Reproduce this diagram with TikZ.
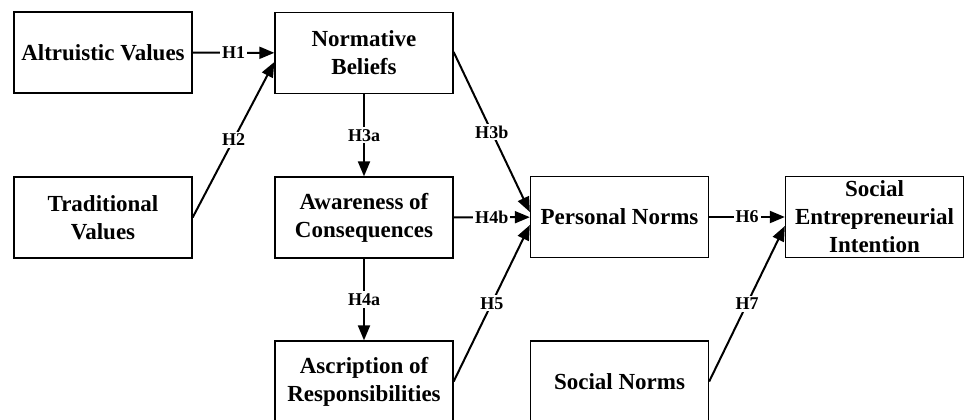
\documentclass[tikz,border=0pt]{standalone}
\usepackage{fontspec}
\setmainfont{Liberation Serif}
\usetikzlibrary{calc, arrows.meta}

\begin{document}
\begin{tikzpicture}[x=0.5pt, y=-0.5pt,
    construct/.style={draw, line width=0.65pt, minimum width=89pt, minimum height=40.5pt,
        inner sep=0pt, align=center, font=\fontsize{11.5}{14}\selectfont\bfseries},
    link/.style={line width=1pt, -{Triangle[length=7.5pt, width=6pt]}},
    hyp/.style={fill=white, inner sep=1pt, font=\fontsize{9}{10}\selectfont\bfseries}]
    \useasboundingbox (0,0) rectangle (970,419);

    % constructs
    \node[construct] (av) at (103,52.5) {Altruistic Values};
    \node[construct] (tv) at (103,217.5) {Traditional\\Values};
    \node[construct] (nb) at (364,53) {Normative\\Beliefs};
    \node[construct] (ac) at (364,217.5) {Awareness of\\Consequences};
    \node[construct] (ar) at (364,381.5) {Ascription of\\Responsibilities};
    \node[construct] (pn) at (619.5,217) {Personal Norms};
    \node[construct] (sn) at (619.5,381.5) {Social Norms};
    \node[construct] (sei) at (874.5,217) {Social\\Entrepreneurial\\Intention};

    % hypotheses
    \draw[link] (av) -- node[hyp] {H1} (nb);
    \draw[link] (tv.east) -- node[hyp] {H2} ($(nb.west)+(0,9)$);
    \draw[link] (nb) -- node[hyp] {H3a} (ac);
    \draw[link] ($(nb.east)+(0,-1)$) -- node[hyp] {H3b} ($(pn.west)+(0,-5)$);
    \draw[link] (ac) -- node[hyp] {H4b} (pn);
    \draw[link] (ac) -- node[hyp] {H4a} (ar);
    \draw[link] (ar.east) -- node[hyp] {H5} ($(pn.west)+(0,8)$);
    \draw[link] (pn) -- node[hyp] {H6} (sei);
    \draw[link] (sn.east) -- node[hyp] {H7} ($(sei.west)+(0,9)$);
\end{tikzpicture}
\end{document}
